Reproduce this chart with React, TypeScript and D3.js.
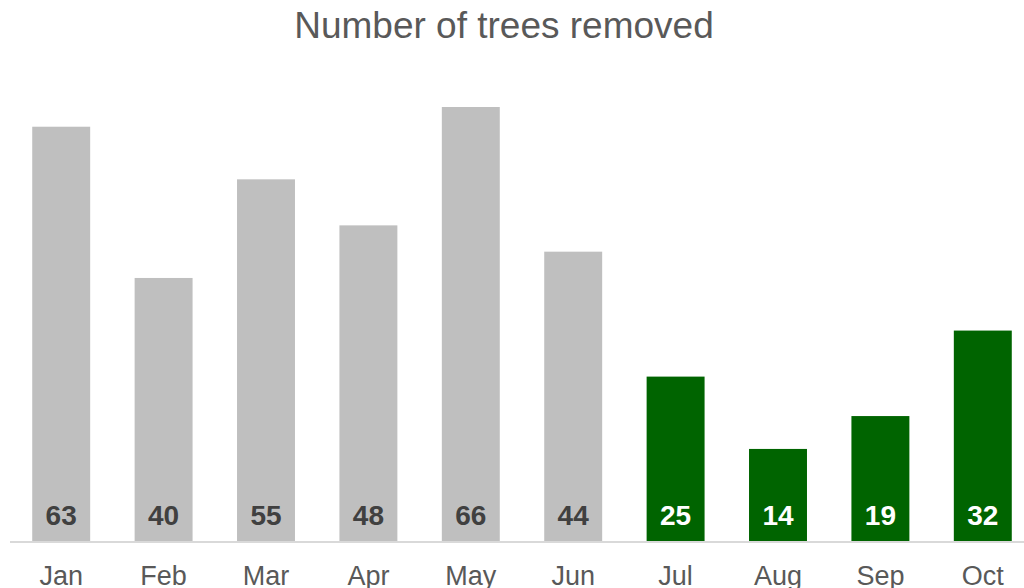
import React from "react";
import * as d3 from "d3";

const months = ["Jan", "Feb", "Mar", "Apr", "May", "Jun", "Jul", "Aug", "Sep", "Oct"];
const treesRemoved = [63, 40, 55, 48, 66, 44, 25, 14, 19, 32];
const highlighted = [false, false, false, false, false, false, true, true, true, true];
const title = "Number of trees removed";

const W = 1024;
const H = 588;
const baseline = 541;

export default function App() {
  const x = d3.scaleBand<string>().domain(months).range([10, 1034]).paddingInner(0.434).paddingOuter(0.217);
  const y = d3.scaleLinear().domain([0, 66]).range([baseline, 107]);
  const font = "'Liberation Sans', Arial, sans-serif";
  return (
    <svg width={W} height={H} style={{ position: "absolute", left: 0, top: 0, background: "#fff" }}>
      <text x={504} y={38} textAnchor="middle" fontFamily={font} fontSize={37} fill="#595959">
        {title}
      </text>
      {months.map((m, i) => {
        const v = treesRemoved[i];
        const bx = x(m)!;
        const bw = x.bandwidth();
        const hl = highlighted[i];
        return (
          <g key={m}>
            <rect x={bx} y={y(v)} width={bw} height={baseline - y(v)} fill={hl ? "#006400" : "#BFBFBF"} />
            <text
              x={bx + bw / 2}
              y={525}
              textAnchor="middle"
              fontFamily={font}
              fontWeight="bold"
              fontSize={28}
              fill={hl ? "#FFFFFF" : "#404040"}
            >
              {v}
            </text>
            <text x={bx + bw / 2} y={585} textAnchor="middle" fontFamily={font} fontSize={27} fill="#595959">
              {m}
            </text>
          </g>
        );
      })}
      <line x1={10} x2={W} y1={baseline + 1} y2={baseline + 1} stroke="#D9D9D9" strokeWidth={2} />
    </svg>
  );
}
